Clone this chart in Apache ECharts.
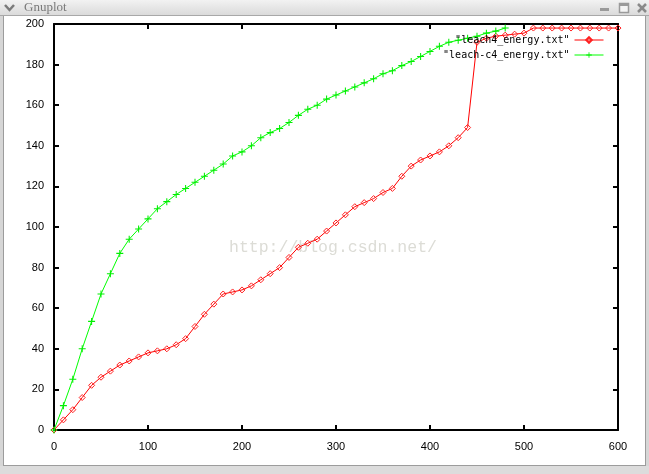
<!DOCTYPE html>
<html>
<head>
<meta charset="utf-8">
<script src="https://cdn.jsdelivr.net/npm/echarts@6/dist/echarts.min.js"></script>
<style>
html,body{margin:0;padding:0;background:#fff;}
#chart{width:649px;height:474px;}
</style>
</head>
<body>
<div id="chart"></div>
<script>
// ---- data ----
const xTicks = [0, 100, 200, 300, 400, 500, 600];
const yTicks = [0, 20, 40, 60, 80, 100, 120, 140, 160, 180, 200];

const leach4X = [0,10,20,30,40,50,60,70,80,90,100,110,120,130,140,150,160,170,180,190,200,210,220,230,240,250,260,270,280,290,300,310,320,330,340,350,360,370,380,390,400,410,420,430,440,450,460,470,480,490,500,510,520,530,540,550,560,570,580,590,600];
const leach4Y = [0,5,10,16,22,26,29,32,34,36,38,39,40,42,45,51,57,62,67,68,69,71,74,77,80,85,90,92,94,98,102,106,110,112,114,117,119,125,130,133,135,137,140,144,149,191,193,194,194.5,195,195.5,198,198,198,198,198,198,198,198,198,198];

const leachC4X = [0,10,20,30,40,50,60,70,80,90,100,110,120,130,140,150,160,170,180,190,200,210,220,230,240,250,260,270,280,290,300,310,320,330,340,350,360,370,380,390,400,410,420,430,440,450,460,470,480];
const leachC4Y = [0,12,25,40,53.5,67,77,87,94,99,104,109,112.5,116,119,122,125,128,131,135,137,140,144,146.5,148.5,151.5,155,158,160,163,165,167,169,171,173,175.5,177,179.5,181.5,184,186.5,189,191,192,193,194,195.5,196.5,198];

const seriesNames = ['leach4_energy.txt', 'leach-c4_energy.txt'];
const windowTitle = 'Gnuplot';
const watermark = 'http://blog.csdn.net/';

// ---- build ----
const zip = (xs, ys) => xs.map((x, i) => [x, ys[i]]);
const chart = echarts.init(document.getElementById('chart'), null, {renderer: 'canvas'});

const tickFont = {fontFamily: 'Liberation Sans', fontSize: 11, color: '#000'};
const axisCommon = {
  axisLine: {show: true, onZero: false, lineStyle: {color: '#000', width: 2}},
  axisTick: {show: true, inside: true, length: 5, lineStyle: {color: '#000', width: 2}},
  splitLine: {show: false}
};
const plusPath = 'path://M-0.6,-4H0.6V-0.6H4V0.6H0.6V4H-0.6V0.6H-4V-0.6H-0.6Z';
const diamondPath = 'path://M0,-3L3,0L0,3L-3,0Z';

const option = {
  backgroundColor: '#fff',
  animation: false,
  grid: {left: 54, right: 31, top: 24, bottom: 44, containLabel: false},
  xAxis: [
    Object.assign({type: 'value', position: 'bottom', min: xTicks[0], max: xTicks[xTicks.length-1], interval: 100,
      axisLabel: Object.assign({margin: 11}, tickFont)}, axisCommon),
    Object.assign({type: 'value', position: 'top', min: xTicks[0], max: xTicks[xTicks.length-1], interval: 100,
      axisLabel: {show: false}}, axisCommon)
  ],
  yAxis: [
    Object.assign({type: 'value', position: 'left', min: yTicks[0], max: yTicks[yTicks.length-1], interval: 20,
      axisLabel: Object.assign({margin: 10}, tickFont)}, axisCommon),
    Object.assign({type: 'value', position: 'right', min: yTicks[0], max: yTicks[yTicks.length-1], interval: 20,
      axisLabel: {show: false}}, axisCommon)
  ],
  legend: {
    orient: 'vertical', right: 40, top: 30, align: 'right',
    itemWidth: 29, itemHeight: 7, itemGap: 5,
    lineStyle: {width: 1},
    textStyle: {fontFamily: 'DejaVu Sans Mono', fontSize: 10, color: '#000'},
    formatter: n => '"' + n + '"',
    data: seriesNames
  },
  series: [
    {
      name: seriesNames[0], type: 'line', xAxisIndex: 0, yAxisIndex: 0,
      data: zip(leach4X, leach4Y),
      symbol: diamondPath, symbolSize: 6,
      lineStyle: {color: '#ff0000', width: 1},
      itemStyle: {color: 'rgba(255,255,255,0)', borderColor: '#ff2020', borderWidth: 1},
      z: 2
    },
    {
      name: seriesNames[1], type: 'line', xAxisIndex: 0, yAxisIndex: 0,
      data: zip(leachC4X, leachC4Y),
      symbol: plusPath, symbolSize: 7,
      lineStyle: {color: '#00ff00', width: 1},
      itemStyle: {color: '#00ee00'},
      z: 3
    }
  ],
  graphic: [
    // window frame
    {type: 'rect', shape: {x: 0, y: 0, width: 4, height: 474}, style: {fill: '#d6d6d6'}, z: 100},
    {type: 'rect', shape: {x: 3, y: 16, width: 1, height: 450}, style: {fill: '#9c9c9c'}, z: 101},
    {type: 'rect', shape: {x: 645, y: 0, width: 4, height: 474}, style: {fill: '#d6d6d6'}, z: 100},
    {type: 'rect', shape: {x: 645, y: 16, width: 1, height: 450}, style: {fill: '#9c9c9c'}, z: 101},
    {type: 'rect', shape: {x: 0, y: 466, width: 649, height: 8}, style: {fill: '#dcdcdc'}, z: 100},
    {type: 'rect', shape: {x: 3, y: 465, width: 643, height: 1}, style: {fill: '#9c9c9c'}, z: 101},
    // title bar
    {type: 'rect', shape: {x: 0, y: 0, width: 649, height: 16},
      style: {fill: new echarts.graphic.LinearGradient(0, 0, 0, 1, [{offset: 0, color: '#f2f2f2'}, {offset: 1, color: '#d9d9d9'}])}, z: 100},
    {type: 'rect', shape: {x: 0, y: 15, width: 649, height: 1}, style: {fill: '#a8a8a8'}, z: 101},
    {type: 'polyline', shape: {points: [[5, 5], [9.5, 10], [14, 5]]}, style: {stroke: '#7a7a7a', lineWidth: 2.5, fill: null}, z: 101},
    {type: 'text', x: 24, y: 8, style: {text: windowTitle, fontFamily: 'Liberation Serif', fontSize: 13, fill: '#7a7a7a', textVerticalAlign: 'middle', verticalAlign: 'middle'}, z: 101},
    {type: 'rect', shape: {x: 600, y: 8, width: 9, height: 3}, style: {fill: '#9a9a9a'}, z: 101},
    {type: 'rect', shape: {x: 619.5, y: 3.5, width: 9, height: 9}, style: {fill: '#f4f4f4', stroke: '#9a9a9a', lineWidth: 1.5}, z: 101},
    {type: 'rect', shape: {x: 619.5, y: 3.5, width: 9, height: 2.5}, style: {fill: '#9a9a9a'}, z: 102},
    {type: 'polyline', shape: {points: [[638, 4], [646, 12]]}, style: {stroke: '#8a8a8a', lineWidth: 2.5}, z: 101},
    {type: 'polyline', shape: {points: [[646, 4], [638, 12]]}, style: {stroke: '#8a8a8a', lineWidth: 2.5}, z: 101},
    // watermark
    {type: 'text', x: 229, y: 248, style: {text: watermark, fontFamily: 'Liberation Mono', fontSize: 16.5, fill: '#dcdcd6', textVerticalAlign: 'middle', verticalAlign: 'middle'}, z: 1}
  ]
};
chart.setOption(option);
</script>
</body>
</html>
